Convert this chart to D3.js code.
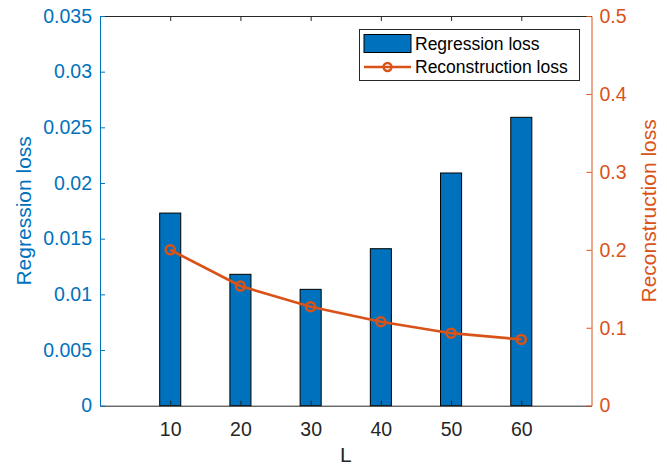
<!DOCTYPE html>
<html>
<head>
<meta charset="utf-8">
<script src="https://cdn.jsdelivr.net/npm/d3@7"></script>
<style>
  body { margin: 0; background: #fff; }
  text { font-family: "Liberation Sans", Arial, Helvetica, sans-serif; }
</style>
</head>
<body>
<svg id="drawing_region"></svg>
<script>
// values
const lengths = [10, 20, 30, 40, 50, 60];
const regression_loss = [0.0173, 0.0118, 0.01045, 0.0141, 0.0209, 0.0259];
const reconstruction_loss = [0.2, 0.1535, 0.127, 0.1077, 0.093, 0.085];

const left_ticks = [0, 0.005, 0.01, 0.015, 0.02, 0.025, 0.03, 0.035];
const right_ticks = [0, 0.1, 0.2, 0.3, 0.4, 0.5];
const x_ticks = [10, 20, 30, 40, 50, 60];

const series_names = ["Regression loss", "Reconstruction loss"];

const blue = "#0072BD";
const orange = "#D95319";
const gray = "#262626";

const config = {
    width: 667,
    height: 466,
    margin: {top: 16, right: 75.5, bottom: 60.3, left: 100}
};

const svg = d3.select('#drawing_region')
    .attr('width', config.width)
    .attr('height', config.height);

const inner_width = config.width - config.margin.left - config.margin.right;
const inner_height = config.height - config.margin.top - config.margin.bottom;

const chart = svg.append('g')
    .attr('transform', `translate(${config.margin.left}, ${config.margin.top})`);

const xscale = d3.scaleLinear().domain([0, 70]).range([0, inner_width]);
const yleft = d3.scaleLinear().domain([0, 0.035]).range([inner_height, 0]);
const yright = d3.scaleLinear().domain([0, 0.5]).range([inner_height, 0]);

const bar_width = 3; // in x units

// bars
chart.selectAll('rect.bar')
    .data(lengths)
    .enter()
    .append('rect')
    .attr('class', 'bar')
    .attr('x', (d) => xscale(d - bar_width / 2))
    .attr('y', (d, i) => yleft(regression_loss[i]))
    .attr('width', xscale(bar_width) - xscale(0))
    .attr('height', (d, i) => yleft(0) - yleft(regression_loss[i]))
    .style('fill', blue)
    .style('stroke', '#000')
    .style('stroke-width', 1);

// reconstruction line
const line = d3.line()
    .x((d) => xscale(d))
    .y((d, i) => yright(reconstruction_loss[i]));

chart.append('path')
    .datum(lengths)
    .attr('d', line)
    .style('fill', 'none')
    .style('stroke', orange)
    .style('stroke-width', 2.7);

chart.selectAll('circle.pt')
    .data(lengths)
    .enter()
    .append('circle')
    .attr('class', 'pt')
    .attr('cx', (d) => xscale(d))
    .attr('cy', (d, i) => yright(reconstruction_loss[i]))
    .attr('r', 4.5)
    .style('fill', 'none')
    .style('stroke', orange)
    .style('stroke-width', 2.6);

// axes
function style_axis(g, color) {
    g.select('.domain').attr('stroke', color);
    g.selectAll('.tick line').attr('stroke', color);
    g.selectAll('.tick text')
        .attr('fill', color)
        .style('font-size', '19.5px');
    g.attr('font-family', null);
}

const xaxis_group = chart.append('g')
    .attr('transform', `translate(0, ${inner_height})`)
    .call(d3.axisBottom(xscale).tickValues(x_ticks)
        .tickSizeInner(-5).tickSizeOuter(0).tickPadding(16));
style_axis(xaxis_group, gray);

const xtop_group = chart.append('g')
    .call(d3.axisTop(xscale).tickValues(x_ticks)
        .tickSizeInner(-5).tickSizeOuter(0).tickFormat(''));
style_axis(xtop_group, gray);

const yleft_group = chart.append('g')
    .call(d3.axisLeft(yleft).tickValues(left_ticks)
        .tickSizeInner(-5).tickSizeOuter(0).tickPadding(8)
        .tickFormat((d) => String(d)));
style_axis(yleft_group, blue);

const yright_group = chart.append('g')
    .attr('transform', `translate(${inner_width}, 0)`)
    .call(d3.axisRight(yright).tickValues(right_ticks)
        .tickSizeInner(-5).tickSizeOuter(0).tickPadding(8)
        .tickFormat((d) => String(d)));
style_axis(yright_group, orange);

// axis labels
svg.append('text')
    .attr('transform', `translate(30.5, ${config.margin.top + inner_height / 2}) rotate(-90)`)
    .attr('text-anchor', 'middle')
    .style('font-size', '21px')
    .style('fill', blue)
    .text('Regression loss');

svg.append('text')
    .attr('transform', `translate(656, ${config.margin.top + inner_height / 2}) rotate(-90)`)
    .attr('text-anchor', 'middle')
    .style('font-size', '21px')
    .style('fill', orange)
    .text('Reconstruction loss');

svg.append('text')
    .attr('x', config.margin.left + inner_width / 2)
    .attr('y', 462)
    .attr('text-anchor', 'middle')
    .style('font-size', '21px')
    .style('fill', gray)
    .text('L');

// legend
const legend = svg.append('g').attr('transform', 'translate(359.5, 29.5)');

legend.append('rect')
    .attr('width', 220)
    .attr('height', 51)
    .style('fill', '#fff')
    .style('stroke', gray)
    .style('stroke-width', 1);

legend.append('rect')
    .attr('x', 4.5)
    .attr('y', 5)
    .attr('width', 47)
    .attr('height', 18)
    .style('fill', blue)
    .style('stroke', '#000');

legend.append('line')
    .attr('x1', 4.5).attr('x2', 51.5)
    .attr('y1', 37.5).attr('y2', 37.5)
    .style('stroke', orange)
    .style('stroke-width', 2.7);

legend.append('circle')
    .attr('cx', 28).attr('cy', 37.5).attr('r', 4)
    .style('fill', 'none')
    .style('stroke', orange)
    .style('stroke-width', 2.4);

legend.selectAll('text.entry')
    .data(series_names)
    .enter()
    .append('text')
    .attr('class', 'entry')
    .attr('x', 55.5)
    .attr('y', (d, i) => 20 + i * 23.5)
    .style('font-size', '17.5px')
    .style('fill', '#000')
    .text((d) => d);
</script>
</body>
</html>
